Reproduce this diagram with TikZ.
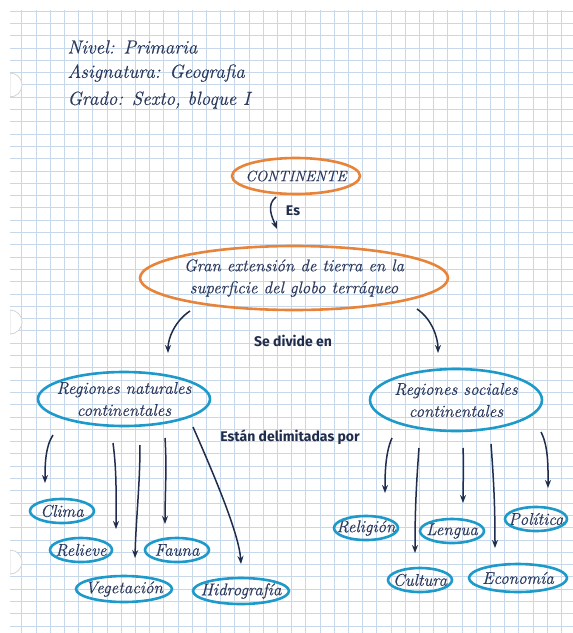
\documentclass[tikz,border=0pt]{standalone}
\usepackage{fontspec}
\setsansfont{Fira Sans}
\newfontfamily\handfont[FakeBold=0.4]{Latin Modern Roman}
\usetikzlibrary{arrows.meta}
\definecolor{gridblue}{HTML}{C6D8EA}
\definecolor{holegray}{HTML}{D4D4D4}
\definecolor{inkblue}{HTML}{2C3A5E}
\definecolor{ovalorange}{HTML}{E8843A}
\definecolor{ovalblue}{HTML}{1E9ACA}
\definecolor{arrowink}{HTML}{1F2C4C}
\tikzset{
  gridline/.style={gridblue, line width=.8pt},
  hand/.style={text=inkblue, font=\fontsize{#1}{22}\selectfont\handfont\itshape, align=center},
  hand/.default=17,
  ovalo/.style={draw=ovalorange, line width=2.6pt},
  ovalb/.style={draw=ovalblue, line width=2.6pt},
  linklabel/.style={text=arrowink, font=\fontsize{14}{16}\selectfont\sffamily\bfseries},
  arr/.style={draw=arrowink, line width=1.5pt, -{Stealth[length=8pt,width=6pt]}},
}
\begin{document}
\begin{tikzpicture}[x=1pt,y=-1pt]
\useasboundingbox (0,0) rectangle (573,633);
\fill[white] (0,0) rectangle (573,633);
% Cuadricula de la hoja
\foreach \gx in {1,...,39}
  \draw[gridline] (7.5+\gx*14.2,10) -- (7.5+\gx*14.2,633);
\foreach \gy in {0,...,50}
  \draw[gridline] (10,11+\gy*12.3) -- (573,11+\gy*12.3);
% Perforaciones
\foreach \hy in {85,322,562}
  \filldraw[fill=white, draw=holegray, line width=.8pt] (10,\hy-12) arc[start angle=90, end angle=-90, radius=12pt] -- cycle;
\fill[white] (0,0) rectangle (10,633);
% Encabezado
\node[hand=19, anchor=west] (nivel) at (64,47) {Nivel: Primaria};
\node[hand=19, anchor=west] (asig) at (64,73) {Asignatura: Geografia};
\node[hand=19, anchor=west] (grado) at (64,100) {Grado: Sexto, bloque I};
% Conceptos principales
\node[hand=15] (cont) at (296,176) {CONTINENTE};
\draw[ovalo] (cont.center) ellipse[x radius=64pt, y radius=18pt];
\node[hand=17] (gran) at (294,278) {Gran extensión de tierra en la\\superficie del globo terráqueo};
\draw[ovalo] (gran.center) ellipse[x radius=154pt, y radius=32pt];
\node[hand=17] (nat) at (124,399) {Regiones naturales\\continentales};
\draw[ovalb] (nat.center) ellipse[x radius=86pt, y radius=27pt];
\node[hand=17] (soc) at (456,400) {Regiones sociales\\continentales};
\draw[ovalb] (soc.center) ellipse[x radius=86pt, y radius=31pt];
% Regiones naturales
\node[hand] (clima) at (62,511) {Clima};
\draw[ovalb] (clima.center) ellipse[x radius=32pt, y radius=12pt];
\node[hand] (relieve) at (81,550) {Relieve};
\draw[ovalb] (relieve.center) ellipse[x radius=31pt, y radius=12pt];
\node[hand] (fauna) at (177,550) {Fauna};
\draw[ovalb] (fauna.center) ellipse[x radius=32pt, y radius=12pt];
\node[hand] (veget) at (124,589) {Vegetación};
\draw[ovalb] (veget.center) ellipse[x radius=48pt, y radius=13pt];
\node[hand] (hidro) at (241,591) {Hidrografía};
\draw[ovalb] (hidro.center) ellipse[x radius=48pt, y radius=13pt];
% Regiones sociales
\node[hand] (relig) at (366,528) {Religión};
\draw[ovalb] (relig.center) ellipse[x radius=32pt, y radius=12pt];
\node[hand] (lengua) at (452,531) {Lengua};
\draw[ovalb] (lengua.center) ellipse[x radius=32pt, y radius=12pt];
\node[hand] (polit) at (536,519) {Política};
\draw[ovalb] (polit.center) ellipse[x radius=31pt, y radius=12pt];
\node[hand] (cult) at (420,580) {Cultura};
\draw[ovalb] (cult.center) ellipse[x radius=32pt, y radius=12pt];
\node[hand] (econ) at (518,578) {Economía};
\draw[ovalb] (econ.center) ellipse[x radius=49pt, y radius=14pt];
% Palabras de enlace
\node[linklabel] (es) at (293,211) {Es};
\node[linklabel] (divide) at (293,341) {Se divide en};
\node[linklabel] (delim) at (290,437) {Están delimitadas por};
% Extremos de las flechas
\coordinate (es1) at (276,197);   \coordinate (es2) at (277,229);
\coordinate (izq1) at (190,311);  \coordinate (izq2) at (168,353);
\coordinate (der1) at (417,309);  \coordinate (der2) at (438,353);
\coordinate (a1) at (53,435);     \coordinate (a1e) at (45,483);
\coordinate (a2) at (113,443);    \coordinate (a2e) at (116,529);
\coordinate (a3) at (140,445);    \coordinate (a3e) at (135,558);
\coordinate (a4) at (165,438);    \coordinate (a4e) at (165,524);
\coordinate (a5) at (193,427);    \coordinate (a5e) at (241,564);
\coordinate (b1) at (392,438);    \coordinate (b1e) at (385,493);
\coordinate (b2) at (419,448);    \coordinate (b2e) at (415,553);
\coordinate (b3) at (463,448);    \coordinate (b3e) at (463,503);
\coordinate (b4) at (491,444);    \coordinate (b4e) at (495,548);
\coordinate (b5) at (541,432);    \coordinate (b5e) at (548,488);
% Flechas
\draw[arr] (es1) .. controls +(-10,8) and +(-5,-12) .. (es2);
\draw[arr] (izq1) .. controls +(-15,10) and +(0,-15) .. (izq2);
\draw[arr] (der1) .. controls +(15,10) and +(0,-15) .. (der2);
\draw[arr] (a1) .. controls +(-8,12) and +(0,-16) .. (a1e);
\draw[arr] (a2) .. controls +(4,30) and +(0,-30) .. (a2e);
\draw[arr] (a3) .. controls +(0,40) and +(1,-40) .. (a3e);
\draw[arr] (a4) .. controls +(2,30) and +(0,-30) .. (a4e);
\draw[arr] (a5) .. controls +(22,50) and +(-2,-30) .. (a5e);
\draw[arr] (b1) .. controls +(-7,15) and +(0,-16) .. (b1e);
\draw[arr] (b2) .. controls +(-3,40) and +(0,-40) .. (b2e);
\draw[arr] (b3) .. controls +(1,20) and +(0,-20) .. (b3e);
\draw[arr] (b4) .. controls +(3,40) and +(0,-40) .. (b4e);
\draw[arr] (b5) .. controls +(8,15) and +(0,-16) .. (b5e);
\end{tikzpicture}
\end{document}
